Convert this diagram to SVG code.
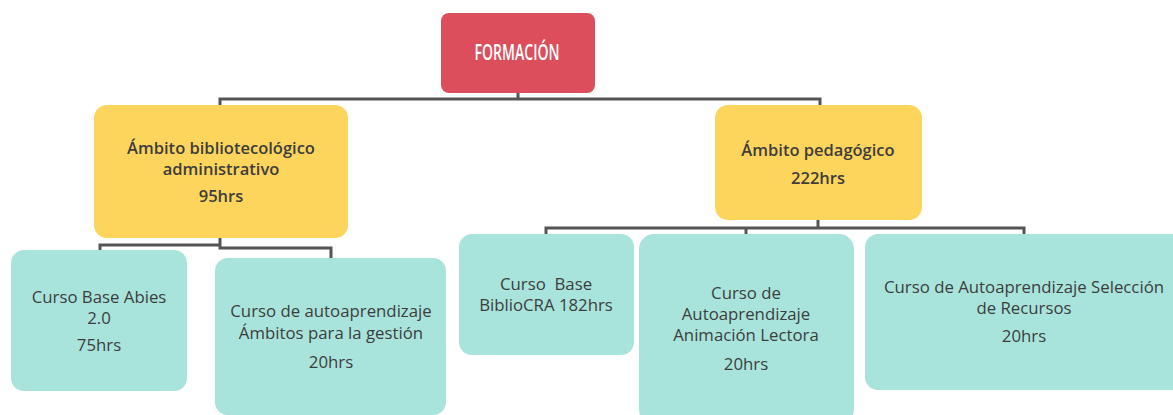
<svg xmlns="http://www.w3.org/2000/svg" width="1173" height="415" viewBox="0 0 1173 415">
<style>
.root{fill:#dc4e5c}
.amb{fill:#fed55c}
.cur{fill:#a8e4dc}
.conn{fill:none;stroke:#555;stroke-width:3}
text{font-family:"Open Sans",Lato,sans-serif;text-anchor:middle;fill:#3d3d3d}
.b{font-weight:600;font-size:16.5px}
.r{font-size:16.8px}
.t{fill:#fff;font-size:22px;font-weight:600}
</style>
<rect width="1173" height="415" fill="#fff"/>
<g id="connectors">
<path class="conn" d="M518 93V99M220 106V99H820V106"/>
<path class="conn" d="M220 238V248H331V258M220 245H100V251"/>
<path class="conn" d="M818 220V228M546 235V228H1024V235M746 228V235"/>
</g>
<g id="formacion">
<rect class="root" x="441" y="13" width="154" height="80" rx="8"/>
<text class="t" x="517" y="60" textLength="85" lengthAdjust="spacingAndGlyphs">FORMACIÓN</text>
</g>
<g id="ambito-biblio">
<rect class="amb" x="94" y="105" width="254" height="133" rx="13"/>
<text class="b" x="221" y="154">Ámbito bibliotecológico</text>
<text class="b" x="221" y="175">administrativo</text>
<text class="b" x="221" y="202">95hrs</text>
</g>
<g id="ambito-pedagogico">
<rect class="amb" x="715" y="105" width="207" height="115" rx="13"/>
<text class="b" x="818" y="156">Ámbito pedagógico</text>
<text class="b" x="818" y="184">222hrs</text>
</g>
<g id="curso-abies">
<rect class="cur" x="11" y="250" width="176" height="141" rx="13"/>
<text class="r" x="99" y="303">Curso Base Abies</text>
<text class="r" x="99" y="324">2.0</text>
<text class="r" x="99" y="351">75hrs</text>
</g>
<g id="curso-gestion">
<rect class="cur" x="215" y="258" width="231" height="157" rx="13"/>
<text class="r" x="331" y="317">Curso de autoaprendizaje</text>
<text class="r" x="331" y="339">Ámbitos para la gestión</text>
<text class="r" x="331" y="368">20hrs</text>
</g>
<g id="curso-bibliocra">
<rect class="cur" x="459" y="234" width="175" height="121" rx="13"/>
<text class="r" x="546" y="290" xml:space="preserve">Curso  Base</text>
<text class="r" x="546" y="311">BiblioCRA 182hrs</text>
</g>
<g id="curso-animacion">
<rect class="cur" x="639" y="234" width="215" height="190" rx="15"/>
<text class="r" x="746" y="299">Curso de</text>
<text class="r" x="746" y="320">Autoaprendizaje</text>
<text class="r" x="746" y="341">Animación Lectora</text>
<text class="r" x="746" y="370">20hrs</text>
</g>
<g id="curso-seleccion">
<rect class="cur" x="865" y="234" width="320" height="156" rx="13"/>
<text class="r" x="1024" y="293">Curso de Autoaprendizaje Selección</text>
<text class="r" x="1024" y="314">de Recursos</text>
<text class="r" x="1024" y="342">20hrs</text>
</g>
</svg>
